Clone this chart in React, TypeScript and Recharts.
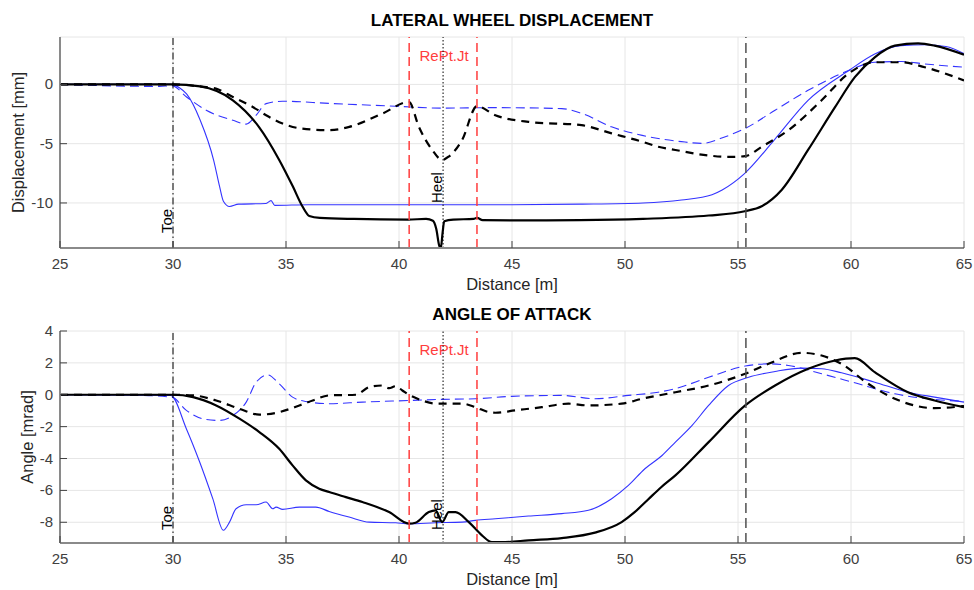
import { LineChart, Line, XAxis, YAxis, CartesianGrid, ReferenceLine, Label } from "recharts";

const FONT = '"Liberation Sans", Arial, Helvetica, sans-serif';

// x positions of the track markers [m]
const TOE = 30;
const HEEL = 41.95;
const REPT_LEFT = 40.45;
const REPT_RIGHT = 43.45;
const END_MARK = 55.35;

const xTicks = [25, 30, 35, 40, 45, 50, 55, 60, 65];
const dispTicks = [-10, -5, 0];
const angleTicks = [-8, -6, -4, -2, 0, 2, 4];

// lateral wheel displacement [mm] vs distance [m]
const dispBlue = [
  [25, 0], [29.9, 0], [30.3, -0.3], [30.6, -0.8], [31.2, -3.0], [31.8, -6.4], [32.06, -8.6], [32.23, -9.86],
  [32.5, -10.3], [32.9, -10.1], [34.1, -10.05], [34.34, -9.8], [34.5, -10.2], [36, -10.15], [40, -10.15],
  [45, -10.15], [48, -10.1], [50.8, -10.0], [52.5, -9.75], [53.85, -9.3], [54.3, -8.9], [55.3, -7.5],
  [56.6, -4.7], [58.1, -1.34], [59.9, 1.17], [61.05, 2.57], [62.2, 3.27], [63.3, 3.35], [64.2, 3.2], [65, 2.6],
];
const dispBlueDash = [
  [25, 0], [29.4, -0.17], [29.95, -0.1], [30.6, -1.06], [31.47, -2.18], [32.65, -3.02], [33.24, -3.35],
  [33.68, -2.6], [34.12, -1.62], [34.85, -1.42], [36.9, -1.6], [39.85, -1.84], [41.9, -2.0], [44.26, -1.96],
  [47.2, -2.04], [48.1, -2.46], [49.4, -3.58], [50.76, -4.3], [52.5, -4.83], [53.4, -4.97], [54.44, -4.41],
  [55.32, -3.71], [56.64, -2.18], [58.1, -0.5], [59.9, 1.17], [61.05, 1.87], [62.23, 1.93], [63.26, 1.73], [65, 1.45],
];
const dispBlack = [
  [25, 0], [30, 0], [31.2, -0.17], [32.65, -1.34], [33.8, -3.58], [34.7, -6.37], [35.3, -8.6], [35.73, -10.3],
  [36.03, -11.1], [36.5, -11.26], [38, -11.35], [40.4, -11.4], [41.2, -11.35], [41.5, -11.5], [41.65, -12.2],
  [41.78, -13.6], [41.85, -13.8], [41.93, -12.5], [42.0, -11.55], [42.4, -11.4], [43.3, -11.35], [43.45, -11.25],
  [43.7, -11.45], [45.7, -11.47], [48, -11.45], [50.8, -11.34], [53.7, -11.06], [55.3, -10.7], [56.05, -10.28],
  [56.94, -8.88], [58.1, -5.53], [59.3, -1.9], [60.17, 0.61], [61.05, 2.29], [61.94, 3.27], [62.97, 3.46],
  [63.7, 3.27], [65, 2.5],
];
const dispBlackDash = [
  [25, 0], [30, 0], [31.18, -0.17], [31.9, -0.36], [32.65, -1.06], [33.53, -1.9], [34.12, -2.6], [34.85, -3.3],
  [35.6, -3.7], [36.9, -3.86], [37.8, -3.58], [39.26, -2.46], [40.44, -1.48], [40.88, -3.58], [41.47, -5.53],
  [41.91, -6.37], [42.2, -6.09], [42.79, -4.69], [43.45, -1.84], [44.26, -2.6], [45.73, -3.16], [48.08, -3.44],
  [49.41, -4.13], [50.76, -4.83], [51.47, -5.26], [52.23, -5.53], [53.7, -6.0], [54.6, -6.12], [55.32, -6.05],
  [56.05, -5.26], [57.23, -3.86], [58.7, -1.34], [59.88, 0.9], [61.05, 1.87], [62.23, 1.87], [63.26, 1.45], [65, 0.34],
];

// angle of attack [mrad] vs distance [m]
const angleBlue = [
  [25, 0], [29.9, -0.05], [30.59, -2.13], [31.18, -4.22], [31.76, -6.52], [32.23, -8.5], [32.5, -7.99],
  [32.79, -7.15], [33.24, -6.9], [33.68, -6.9], [34.12, -6.73], [34.41, -7.15], [34.56, -7.05], [34.85, -7.19],
  [35.59, -7.05], [36.32, -7.05], [36.91, -7.32], [37.79, -7.67], [38.68, -7.99], [39.85, -8.03], [40.44, -8.09],
  [41.62, -8.03], [42.79, -7.99], [43.38, -7.88], [44.26, -7.78], [45.73, -7.61], [47.2, -7.46], [48.38, -7.25],
  [49.41, -6.52], [50.15, -5.69], [50.88, -4.64], [51.64, -3.81], [52.23, -2.97], [52.97, -1.92], [53.7, -0.67],
  [54.58, 0.58], [55.47, 1.1], [56.64, 1.46], [57.82, 1.67], [58.7, 1.63], [59.58, 1.38], [61.05, 0.79],
  [62.52, 0.16], [63.7, -0.15], [65, -0.46],
];
const angleBlueDash = [
  [25, 0], [28.5, -0.04], [29.95, -0.15], [30.59, -0.98], [31.47, -1.55], [32.06, -1.61], [32.65, -1.3],
  [33.24, -0.46], [33.68, 0.79], [34.19, 1.25], [34.7, 0.69], [35.29, -0.15], [35.88, -0.42], [36.91, -0.56],
  [38.38, -0.46], [40.44, -0.36], [41.91, -0.29], [43.38, -0.25], [44.99, -0.1], [47.2, -0.04], [48.67, -0.25],
  [50.15, -0.04], [51.47, 0.16], [52.23, 0.38], [53.7, 1.1], [55.32, 1.8], [56.35, 1.94], [57.23, 1.84],
  [58.7, 1.32], [60.17, 0.75], [61.94, 0.06], [63.7, -0.29], [65, -0.42],
];
const angleBlack = [
  [25, 0], [30, 0], [30.89, -0.15], [31.91, -0.67], [32.94, -1.5], [33.82, -2.34], [34.7, -3.39], [35.29, -4.43],
  [35.88, -5.37], [36.47, -5.89], [36.91, -6.1], [37.65, -6.42], [38.38, -6.73], [39.56, -7.36], [40.44, -8.09],
  [40.73, -8.03], [41.32, -7.36], [41.62, -7.25], [41.91, -7.99], [42.2, -7.36], [42.5, -7.36], [43.09, -7.99],
  [43.67, -8.82], [44.11, -9.24], [44.7, -9.24], [45.73, -9.13], [47.2, -8.99], [48.67, -8.65], [49.85, -7.99],
  [50.4, -7.4], [51.0, -6.6], [51.6, -5.8], [52.23, -5.06], [53.7, -2.97], [55.32, -0.67], [56.64, 0.58],
  [58.11, 1.63], [59.29, 2.15], [60.17, 2.3], [61.05, 1.42], [62.52, 0.16], [63.7, -0.36], [65, -0.78],
];
const angleBlackDash = [
  [25, 0], [30, 0], [30.89, -0.04], [31.91, -0.36], [32.94, -0.88], [33.82, -1.25], [34.7, -1.09], [35.59, -0.67],
  [36.18, -0.36], [36.91, -0.04], [38.09, 0], [38.68, 0.48], [39.26, 0.58], [39.56, 0.41], [39.85, 0.54],
  [40.15, 0.27], [40.44, 0], [41.03, -0.36], [41.62, -0.56], [42.79, -0.56], [43.38, -0.78], [43.97, -1.09],
  [44.26, -1.13], [45.14, -0.98], [46.32, -0.78], [47.5, -0.56], [48.38, -0.67], [49.85, -0.56], [50.76, -0.25],
  [52.23, 0.16], [53.7, 0.58], [55.32, 1.32], [56.35, 1.94], [57.82, 2.63], [58.7, 2.46], [59.58, 1.94],
  [60.76, 0.69], [61.94, -0.25], [63.7, -0.84], [65, -0.71],
];

const toXY = (pts: number[][]) => pts.map(([x, y]) => ({ x, y }));

const BLUE = "#3333ff";
const RED = "#ff3d3d";

type Series = { pts: number[][]; color: string; width: number; dash?: string };

function XTick(props: any) {
  const { x, y, payload } = props;
  return (
    <g>
      <line x1={x} x2={x} y1={y} y2={y - 7} stroke="#404040" strokeWidth={1} />
      <text x={x} y={y + 21} textAnchor="middle" fontSize={15} fill="#404040" fontFamily={FONT}>
        {payload.value}
      </text>
    </g>
  );
}

function YTick(props: any) {
  const { x, y, payload } = props;
  return (
    <g>
      <line x1={x} x2={x + 7} y1={y} y2={y} stroke="#404040" strokeWidth={1} />
      <text x={x - 7} y={y + 5} textAnchor="end" fontSize={15} fill="#404040" fontFamily={FONT}>
        {payload.value}
      </text>
    </g>
  );
}

// rotated marker text, sitting just left of a vertical line
function VText(props: any) {
  const { viewBox, text, lift } = props;
  const x = viewBox.x - 1.5;
  const y = viewBox.y + viewBox.height - lift;
  return (
    <text x={x} y={y} transform={`rotate(-90 ${x} ${y})`} fontSize={15} fill="#000" fontFamily={FONT}>
      {text}
    </text>
  );
}

function TopText(props: any) {
  const { viewBox, text, color } = props;
  return (
    <text x={viewBox.x + 1} y={viewBox.y + 24} textAnchor="middle" fontSize={15} fill={color} fontFamily={FONT}>
      {text}
    </text>
  );
}

function XTitle(props: any) {
  const { viewBox } = props;
  return (
    <text x={viewBox.x + viewBox.width / 2} y={viewBox.y + 42} textAnchor="middle" fontSize={16.5} fill="#262626" fontFamily={FONT}>
      Distance [m]
    </text>
  );
}

function YTitle(props: any) {
  const { viewBox, text, cx } = props;
  const cy = viewBox.y + viewBox.height / 2;
  return (
    <text x={cx} y={cy} transform={`rotate(-90 ${cx} ${cy})`} textAnchor="middle" dominantBaseline="central" fontSize={16.5} fill="#262626" fontFamily={FONT}>
      {text}
    </text>
  );
}

interface PanelProps {
  title: string;
  yLabel: string;
  yLabelX: number;
  domain: [number, number];
  ticks: number[];
  series: Series[];
  toeLift: number;
  heelLift: number;
  marginTop: number;
}

function Panel({ title, yLabel, yLabelX, domain, ticks, series, toeLift, heelLift, marginTop }: PanelProps) {
  return (
    <div style={{ position: "relative", width: 974, height: 295 }}>
      <div
        style={{
          position: "absolute",
          left: 60,
          width: 904,
          top: marginTop - 25,
          textAlign: "center",
          fontFamily: FONT,
          fontWeight: "bold",
          fontSize: 17,
          lineHeight: "18px",
          color: "#000",
        }}
      >
        {title}
      </div>
      <LineChart width={974} height={295} margin={{ top: marginTop, right: 10, bottom: 7, left: 0 }}>
        <CartesianGrid stroke="#e6e6e6" strokeWidth={1} />
        <XAxis
          type="number"
          dataKey="x"
          domain={[25, 65]}
          ticks={xTicks}
          allowDataOverflow
          height={40}
          tickSize={0}
          tickMargin={0}
          tickLine={false}
          tick={<XTick />}
          axisLine={{ stroke: "#8a8a8a", strokeWidth: 2 }}
        >
          <Label content={<XTitle />} />
        </XAxis>
        <YAxis
          type="number"
          dataKey="y"
          domain={domain}
          ticks={ticks}
          allowDataOverflow
          width={60}
          tickSize={0}
          tickMargin={0}
          tickLine={false}
          tick={<YTick />}
          axisLine={{ stroke: "#8a8a8a", strokeWidth: 2 }}
        >
          <Label content={<YTitle text={yLabel} cx={yLabelX} />} />
        </YAxis>
        {series.map((s, i) => (
          <Line
            key={i}
            data={toXY(s.pts)}
            dataKey="y"
            type="monotone"
            stroke={s.color}
            strokeWidth={s.width}
            strokeDasharray={s.dash}
            dot={false}
            activeDot={false}
            isAnimationActive={false}
          />
        ))}
        <ReferenceLine x={TOE} stroke="#000" strokeWidth={1} strokeDasharray="7 3 1.5 3" label={<VText text="Toe" lift={toeLift} />} />
        <ReferenceLine x={REPT_LEFT} stroke={RED} strokeWidth={1.5} strokeDasharray="9 5" />
        <ReferenceLine x={REPT_RIGHT} stroke={RED} strokeWidth={1.5} strokeDasharray="9 5" />
        <ReferenceLine x={HEEL} stroke="none" label={<TopText text="RePt.Jt" color={RED} />} />
        <ReferenceLine x={HEEL} stroke="#000" strokeWidth={1} strokeDasharray="1.5 2" label={<VText text="Heel" lift={heelLift} />} />
        <ReferenceLine x={END_MARK} stroke="#505050" strokeWidth={1.5} strokeDasharray="10 5" />
      </LineChart>
    </div>
  );
}

const dispSeries: Series[] = [
  { pts: dispBlue, color: BLUE, width: 1.1 },
  { pts: dispBlueDash, color: BLUE, width: 1.1, dash: "9 5" },
  { pts: dispBlack, color: "#000", width: 2.2 },
  { pts: dispBlackDash, color: "#000", width: 2.2, dash: "8 6" },
];

const angleSeries: Series[] = [
  { pts: angleBlue, color: BLUE, width: 1.1 },
  { pts: angleBlueDash, color: BLUE, width: 1.1, dash: "9 5" },
  { pts: angleBlack, color: "#000", width: 2.2 },
  { pts: angleBlackDash, color: "#000", width: 2.2, dash: "8 6" },
];

export default function App() {
  return (
    <div style={{ position: "absolute", left: 0, top: 0, width: 974, height: 590, background: "#fff" }}>
      <Panel
        title="LATERAL WHEEL DISPLACEMENT"
        yLabel="Displacement [mm]"
        yLabelX={18}
        domain={[-13.8, 4]}
        ticks={dispTicks}
        series={dispSeries}
        toeLift={15}
        heelLift={45}
        marginTop={37}
      />
      <Panel
        title="ANGLE OF ATTACK"
        yLabel="Angle [mrad]"
        yLabelX={27}
        domain={[-9.3, 4]}
        ticks={angleTicks}
        series={angleSeries}
        toeLift={13}
        heelLift={13}
        marginTop={36}
      />
    </div>
  );
}
